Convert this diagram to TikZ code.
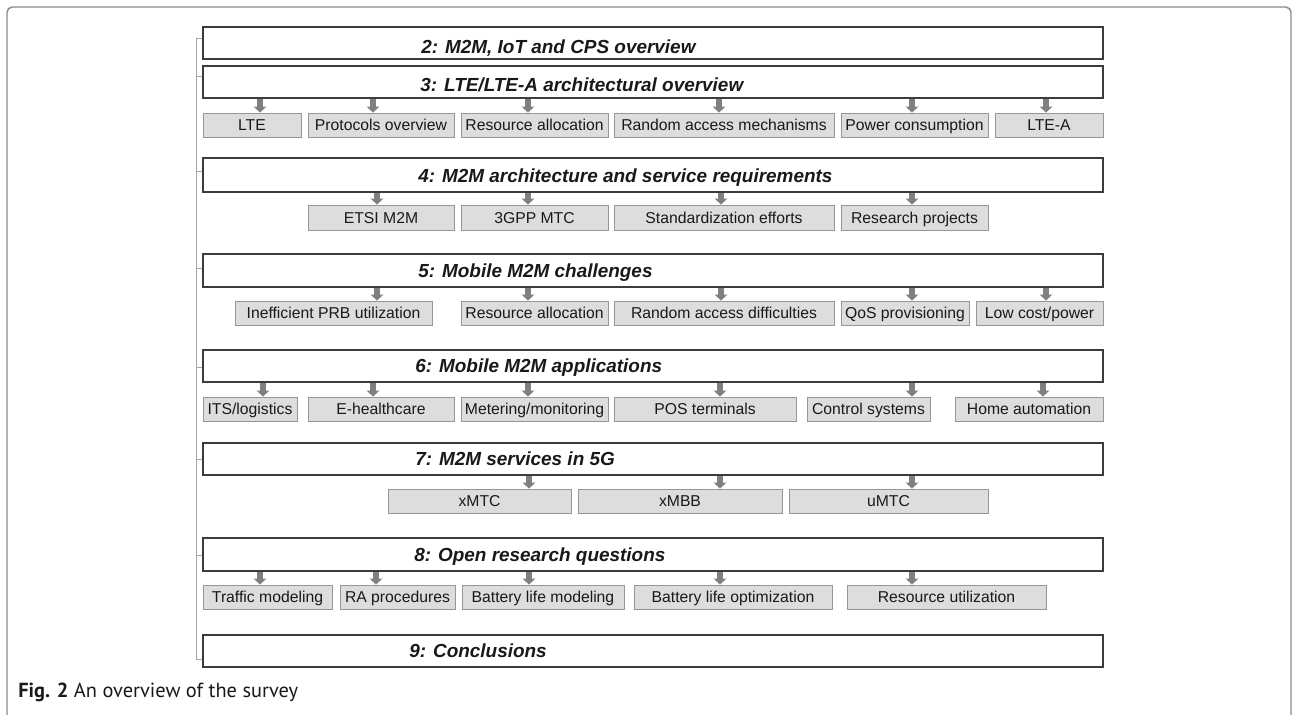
\documentclass[tikz,border=0pt]{standalone}
\usepackage{fontspec}
\setmainfont{Liberation Sans}
\newfontfamily\capfont{PT Sans}
\usetikzlibrary{arrows.meta}

\definecolor{framegray}{RGB}{138,138,138}
\definecolor{bracketgray}{RGB}{165,165,165}
\definecolor{secline}{RGB}{60,60,60}
\definecolor{childfill}{RGB}{221,221,221}
\definecolor{childline}{RGB}{150,150,150}
\definecolor{arrowgray}{RGB}{128,128,128}
\definecolor{ink}{RGB}{25,25,25}

\tikzset{
  secbox/.style={draw=secline, line width=0.9pt, fill=white, inner sep=0pt},
  sectitle/.style={anchor=base west, inner sep=0pt, text=ink,
    font=\fontsize{14.2}{16}\selectfont\bfseries\itshape},
  topic/.style={draw=childline, line width=0.7pt, fill=childfill, inner sep=0pt,
    text=ink, font=\fontsize{11.8}{14}\selectfont, text height=8.45pt, text depth=0pt},
  feed/.style={draw=arrowgray, line width=3.9pt,
    -{Triangle[width=9.5pt,length=4.5pt]}},
  bracket/.style={draw=bracketgray, line width=0.75pt},
  outer/.style={draw=framegray, line width=1.1pt, rounded corners=4pt}
}

% box spanning (x1,y1)--(x2,y2): #1 style, #2 name, #3 x1, #4 y1, #5 x2, #6 y2, #7 text
\newcommand\spanbox[7]{%
  \node[#1, minimum width={(#5-#3)*0.75pt}, minimum height={(#6-#4)*0.75pt}]
    (#2) at ({(#3+#5)/2},{(#4+#6)/2}) {#7};}

\begin{document}
\begin{tikzpicture}[x=0.75pt,y=-0.75pt]
\useasboundingbox (0,0) rectangle (1292,714);

% outer frame
\draw[outer] (7,740) -- (7,7) -- (1291,7) -- (1291,740);

% section boxes
\spanbox{secbox}{s2}{203}{27}{1103}{59}{}
\spanbox{secbox}{s3}{203}{66}{1103}{98}{}
\spanbox{secbox}{s4}{203}{158}{1103}{192}{}
\spanbox{secbox}{s5}{203}{254}{1103}{287}{}
\spanbox{secbox}{s6}{203}{350}{1103}{382}{}
\spanbox{secbox}{s7}{203}{443}{1103}{475}{}
\spanbox{secbox}{s8}{203}{538}{1103}{571}{}
\spanbox{secbox}{s9}{203}{635}{1103}{667}{}

\node[sectitle] (t2) at (421,53)  {2: M2M, IoT and CPS overview};
\node[sectitle] (t3) at (420,91)  {3: LTE/LTE-A architectural overview};
\node[sectitle] (t4) at (418,182) {4: M2M architecture and service requirements};
\node[sectitle] (t5) at (418,277) {5: Mobile M2M challenges};
\node[sectitle] (t6) at (415,372) {6: Mobile M2M applications};
\node[sectitle] (t7) at (415,465) {7: M2M services in 5G};
\node[sectitle] (t8) at (414,561) {8: Open research questions};
\node[sectitle] (t9) at (409,657) {9: Conclusions};

% bracket joining the sections
\draw[bracket] (s2.west |- 0,38) -- (196,38) -- (196,659) -- (s9.west |- 0,659);
\foreach \s/\yy in {s3/76, s4/171, s5/268, s6/367, s7/459, s8/555}
  \draw[bracket] (\s.west |- 0,\yy) -- (196,\yy);

% section 3 topics
\spanbox{topic}{lte}{203}{113}{301}{137}{LTE}
\spanbox{topic}{proto}{308}{113}{454}{137}{Protocols overview}
\spanbox{topic}{ralloc}{461}{113}{608}{137}{Resource allocation}
\spanbox{topic}{rach}{614}{113}{834}{137}{Random access mechanisms}
\spanbox{topic}{power}{841}{113}{988}{137}{Power consumption}
\spanbox{topic}{ltea}{995}{113}{1103}{137}{LTE-A}
\foreach \n/\xx in {lte/260, proto/373, ralloc/528, rach/719, power/912, ltea/1046}
  \draw[feed] (s3.south -| \xx,0) -- (\n.north -| \xx,0);

% section 4 topics
\spanbox{topic}{etsi}{308}{205}{454}{230}{ETSI M2M}
\spanbox{topic}{mtc}{461}{205}{608}{230}{3GPP MTC}
\spanbox{topic}{stdz}{614}{205}{834}{230}{Standardization efforts}
\spanbox{topic}{proj}{841}{205}{988}{230}{Research projects}
\foreach \n/\xx in {etsi/377, mtc/528, stdz/721, proj/912}
  \draw[feed] (s4.south -| \xx,0) -- (\n.north -| \xx,0);

% section 5 topics
\spanbox{topic}{prb}{235}{301}{432}{325}{Inefficient PRB utilization}
\spanbox{topic}{ralloc2}{461}{301}{608}{325}{Resource allocation}
\spanbox{topic}{radiff}{614}{301}{834}{325}{Random access difficulties}
\spanbox{topic}{qos}{841}{301}{969}{325}{QoS provisioning}
\spanbox{topic}{lowc}{976}{301}{1103}{325}{Low cost/power}
\foreach \n/\xx in {prb/377, ralloc2/528, radiff/721, qos/912, lowc/1046}
  \draw[feed] (s5.south -| \xx,0) -- (\n.north -| \xx,0);

% section 6 topics
\spanbox{topic}{its}{203}{397}{297}{421}{ITS/logistics}
\spanbox{topic}{ehc}{308}{397}{454}{421}{E-healthcare}
\spanbox{topic}{meter}{461}{397}{608}{421}{Metering/monitoring}
\spanbox{topic}{pos}{614}{397}{796}{421}{POS terminals}
\spanbox{topic}{ctrl}{807}{397}{930}{421}{Control systems}
\spanbox{topic}{home}{955}{397}{1103}{421}{Home automation}
\foreach \n/\xx in {its/263, ehc/373, meter/528, pos/720, ctrl/912, home/1043}
  \draw[feed] (s6.south -| \xx,0) -- (\n.north -| \xx,0);

% section 7 topics
\spanbox{topic}{xmtc}{388}{489}{571}{513}{xMTC}
\spanbox{topic}{xmbb}{578}{489}{782}{513}{xMBB}
\spanbox{topic}{umtc}{789}{489}{988}{513}{uMTC}
\foreach \n/\xx in {xmtc/529, xmbb/720, umtc/912}
  \draw[feed] (s7.south -| \xx,0) -- (\n.north -| \xx,0);

% section 8 topics
\spanbox{topic}{traf}{203}{585}{332}{609}{Traffic modeling}
\spanbox{topic}{rap}{340}{585}{455}{609}{RA procedures}
\spanbox{topic}{batm}{462}{585}{624}{609}{Battery life modeling}
\spanbox{topic}{bato}{634}{585}{832}{609}{Battery life optimization}
\spanbox{topic}{rutil}{847}{585}{1046}{609}{Resource utilization}
\foreach \n/\xx in {traf/260, rap/376, batm/529, bato/720, rutil/912}
  \draw[feed] (s8.south -| \xx,0) -- (\n.north -| \xx,0);

% caption
\node[anchor=base west, inner sep=0pt, text=ink,
      font=\capfont\fontsize{15.3}{18}\selectfont] (cap) at (18,697)
  {\textbf{Fig. 2} An overview of the survey};
\end{tikzpicture}
\end{document}
